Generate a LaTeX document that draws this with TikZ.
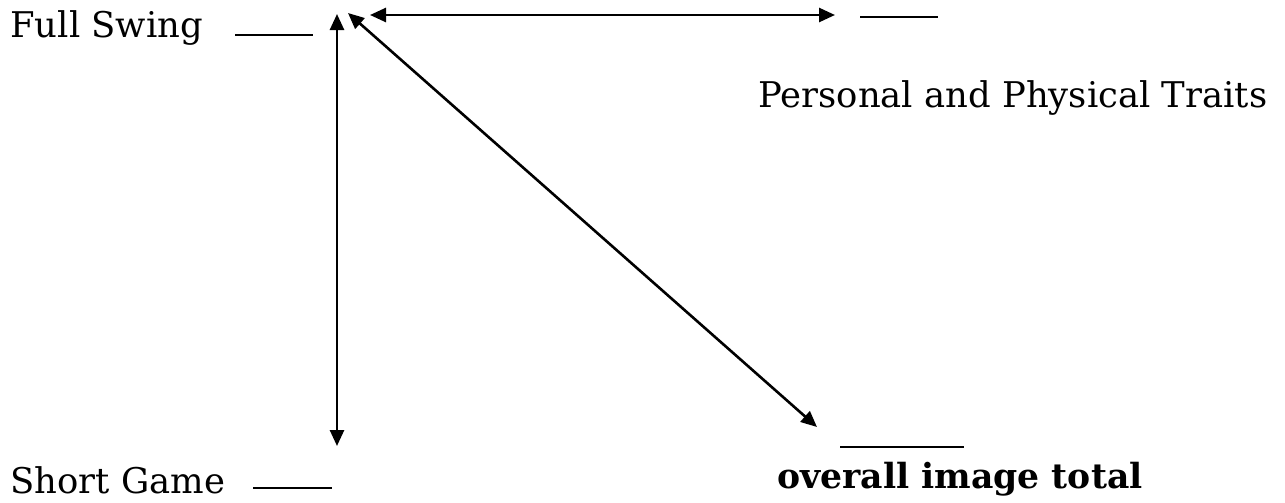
\documentclass[tikz,border=0pt]{standalone}
\usepackage{fontspec}
\setmainfont{DejaVu Serif}
\usetikzlibrary{arrows.meta}

\begin{document}
\begin{tikzpicture}[
  x=0.5pt, y=-0.5pt,
  lbl/.style={anchor=base west, inner sep=0pt, font=\fontsize{17.7}{21}\selectfont},
  blank/.style={line width=1.4pt},
  arr/.style={{Triangle[length=8pt,width=7pt]}-{Triangle[length=8pt,width=7pt]}, line width=1.3pt},
]
\useasboundingbox (0,0) rectangle (1285,503);

%% ---- Labels ----
\node[lbl] (full) at (10, 38) {Full Swing};
\node[lbl] (short) at (10, 493) {Short Game};
\node[lbl] (pers) at (758, 107) {Personal and Physical Traits};
\node[lbl, font=\fontsize{17.3}{21}\selectfont\bfseries] (tot) at (777, 488) {overall image total};

%% ---- Blanks ----
\draw[blank] (235, 35) -- (313, 35);
\draw[blank] (253, 488) -- (332, 488);
\draw[blank] (860, 17) -- (938, 17);
\draw[blank] (840, 447) -- (964, 447);

%% ---- Arrow ends ----
\coordinate (vtop) at (337, 14);
\coordinate (vbot) at (337, 446);
\coordinate (dtop) at (348, 13);
\coordinate (dbot) at (817, 427);
\coordinate (hleft) at (370, 15);
\coordinate (hright) at (835, 15);

\draw[arr] (vtop) -- (vbot);
\draw[arr] (dtop) -- (dbot);
\draw[arr] (hleft) -- (hright);

\end{tikzpicture}
\end{document}
